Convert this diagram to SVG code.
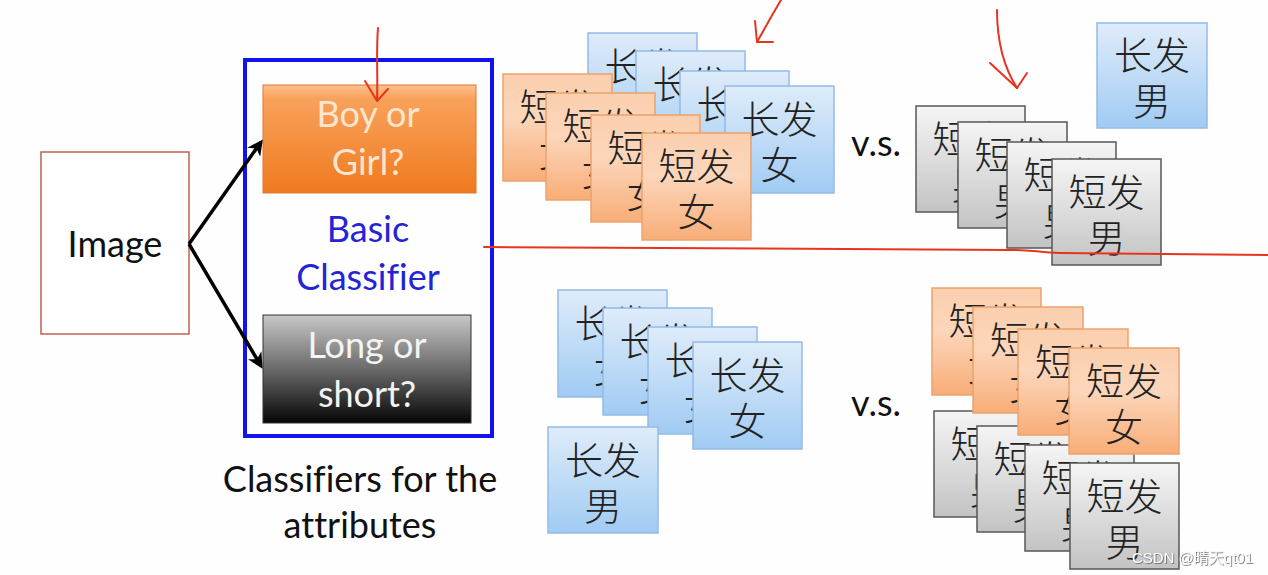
<svg xmlns="http://www.w3.org/2000/svg" width="1268" height="575" viewBox="0 0 1268 575">
<defs>
<linearGradient id="gO" x1="0" y1="0" x2="0" y2="1"><stop offset="0" stop-color="#fbcfae"/><stop offset="0.4" stop-color="#fcd6bb"/><stop offset="1" stop-color="#f8ad77"/></linearGradient>
<linearGradient id="gB" x1="0" y1="0" x2="0" y2="1"><stop offset="0" stop-color="#dfecfa"/><stop offset="1" stop-color="#a0cbf3"/></linearGradient>
<linearGradient id="gG" x1="0" y1="0" x2="0" y2="1"><stop offset="0" stop-color="#f5f5f5"/><stop offset="1" stop-color="#c3c3c3"/></linearGradient>
<linearGradient id="gBoy" x1="0" y1="0" x2="0" y2="1"><stop offset="0" stop-color="#fcc291"/><stop offset="0.12" stop-color="#f9a25c"/><stop offset="1" stop-color="#ef7a1f"/></linearGradient>
<linearGradient id="gLong" x1="0" y1="0" x2="0" y2="1"><stop offset="0" stop-color="#c8c8c8"/><stop offset="0.5" stop-color="#6a6a6a"/><stop offset="1" stop-color="#050505"/></linearGradient>
<filter id="sh" x="-10%" y="-30%" width="120%" height="160%"><feDropShadow dx="0.8" dy="0.8" stdDeviation="0.6" flood-color="#555" flood-opacity="0.9"/></filter>
<marker id="ah" viewBox="0 0 10 10" refX="8" refY="5" markerWidth="4.5" markerHeight="4.5" orient="auto" markerUnits="strokeWidth"><path d="M0,0 L10,5 L0,10 L3,5 Z" fill="#000"/></marker>
<style>
.lat{font-family:Lato,"Open Sans","Liberation Sans",sans-serif;font-size:36px;text-anchor:middle;font-variant-ligatures:none}
.cjk{font-family:"Noto Sans CJK SC","Noto Sans",sans-serif;font-size:38px;font-weight:300;fill:#222;text-anchor:middle}
.co{fill:url(#gO);stroke:#eba26c;stroke-width:1.5}
.cb{fill:url(#gB);stroke:#93bbe6;stroke-width:1.5}
.cg{fill:url(#gG);stroke:#575757;stroke-width:1.5}
.red{fill:none;stroke:#e8331f;stroke-width:2;stroke-linecap:round;stroke-linejoin:round}
.conn{fill:none;stroke:#000;stroke-width:3.5}
</style>
</defs>
<rect width="1268" height="575" fill="#fefefe"/>

<g id="image"><rect x="41" y="152" width="148" height="182" fill="#fff" stroke="#c0604d" stroke-width="1.5"/><text class="lat" x="115" y="257" fill="#111">Image</text></g>

<g id="classifier-box"><rect x="245" y="60" width="247" height="376" fill="none" stroke="#1212ee" stroke-width="4"/></g>

<g id="boy-or-girl"><rect x="263" y="85" width="213" height="108" fill="url(#gBoy)" stroke="#e3762a" stroke-width="1"/><text class="lat" x="368" y="127" fill="#fde5d0">Boy or</text><text class="lat" x="368" y="175" fill="#fde5d0">Girl?</text></g>

<g id="basic-classifier"><text class="lat" x="368" y="242" fill="#2424d6">Basic</text><text class="lat" x="368" y="290" fill="#2424d6">Classifier</text></g>

<g id="long-or-short"><rect x="263" y="315" width="208" height="108" fill="url(#gLong)" stroke="#333" stroke-width="1"/><text class="lat" x="367" y="358" fill="#f4f4f4">Long or</text><text class="lat" x="367" y="407" fill="#f4f4f4">short?</text></g>

<g id="caption"><text class="lat" x="360" y="492" fill="#111">Classifiers for the</text><text class="lat" x="360" y="538" fill="#111">attributes</text></g>

<g id="connectors">
<path class="conn" d="M189,244 L261,142" marker-end="url(#ah)"/>
<path class="conn" d="M189,244 L261,366" marker-end="url(#ah)"/>
</g>

<g id="top-long-female">
<g transform="translate(588,33)"><rect class="cb" width="109" height="107"/><text class="cjk" x="54.5" y="47">长发</text><text class="cjk" x="54.5" y="93">女</text></g>
<g transform="translate(636,51)"><rect class="cb" width="109" height="107"/><text class="cjk" x="54.5" y="47">长发</text><text class="cjk" x="54.5" y="93">女</text></g>
<g transform="translate(680,71)"><rect class="cb" width="109" height="107"/><text class="cjk" x="54.5" y="47">长发</text><text class="cjk" x="54.5" y="93">女</text></g>
<g transform="translate(725,86)"><rect class="cb" width="109" height="107"/><text class="cjk" x="54.5" y="47">长发</text><text class="cjk" x="54.5" y="93">女</text></g>
</g>
<g id="top-short-female">
<g transform="translate(503,74)"><rect class="co" width="109" height="107"/><text class="cjk" x="54.5" y="47">短发</text><text class="cjk" x="54.5" y="93">女</text></g>
<g transform="translate(546,93)"><rect class="co" width="109" height="107"/><text class="cjk" x="54.5" y="47">短发</text><text class="cjk" x="54.5" y="93">女</text></g>
<g transform="translate(591,115)"><rect class="co" width="109" height="107"/><text class="cjk" x="54.5" y="47">短发</text><text class="cjk" x="54.5" y="93">女</text></g>
<g transform="translate(642,133)"><rect class="co" width="109" height="107"/><text class="cjk" x="54.5" y="47">短发</text><text class="cjk" x="54.5" y="93">女</text></g>
</g>

<g id="vs-top"><text class="lat" x="876" y="156" fill="#111">v.s.</text></g>

<g id="top-short-male">
<g transform="translate(916,106)"><rect class="cg" width="109" height="106"/><text class="cjk" x="54.5" y="47">短发</text><text class="cjk" x="54.5" y="93">男</text></g>
<g transform="translate(958,122)"><rect class="cg" width="109" height="106"/><text class="cjk" x="54.5" y="47">短发</text><text class="cjk" x="54.5" y="93">男</text></g>
<g transform="translate(1007,142)"><rect class="cg" width="109" height="106"/><text class="cjk" x="54.5" y="47">短发</text><text class="cjk" x="54.5" y="93">男</text></g>
<g transform="translate(1052,159)"><rect class="cg" width="109" height="106"/><text class="cjk" x="54.5" y="47">短发</text><text class="cjk" x="54.5" y="93">男</text></g>
</g>
<g id="top-long-male"><g transform="translate(1097,23)"><rect class="cb" width="110" height="105"/><text class="cjk" x="55" y="46">长发</text><text class="cjk" x="55" y="92">男</text></g></g>

<g id="bottom-long-female">
<g transform="translate(558,290)"><rect class="cb" width="109" height="107"/><text class="cjk" x="54.5" y="47">长发</text><text class="cjk" x="54.5" y="93">女</text></g>
<g transform="translate(603,308)"><rect class="cb" width="109" height="107"/><text class="cjk" x="54.5" y="47">长发</text><text class="cjk" x="54.5" y="93">女</text></g>
<g transform="translate(648,327)"><rect class="cb" width="109" height="107"/><text class="cjk" x="54.5" y="47">长发</text><text class="cjk" x="54.5" y="93">女</text></g>
<g transform="translate(693,342)"><rect class="cb" width="109" height="107"/><text class="cjk" x="54.5" y="47">长发</text><text class="cjk" x="54.5" y="93">女</text></g>
</g>
<g id="bottom-long-male"><g transform="translate(548,427)"><rect class="cb" width="110" height="106"/><text class="cjk" x="55" y="47">长发</text><text class="cjk" x="55" y="93">男</text></g></g>

<g id="vs-bottom"><text class="lat" x="876" y="416" fill="#111">v.s.</text></g>

<g id="bottom-short-male">
<g transform="translate(934,411)"><rect class="cg" width="109" height="106"/><text class="cjk" x="54.5" y="47">短发</text><text class="cjk" x="54.5" y="93">男</text></g>
<g transform="translate(977,426)"><rect class="cg" width="109" height="106"/><text class="cjk" x="54.5" y="47">短发</text><text class="cjk" x="54.5" y="93">男</text></g>
<g transform="translate(1025,445)"><rect class="cg" width="109" height="106"/><text class="cjk" x="54.5" y="47">短发</text><text class="cjk" x="54.5" y="93">男</text></g>
<g transform="translate(1070,463)"><rect class="cg" width="109" height="106"/><text class="cjk" x="54.5" y="47">短发</text><text class="cjk" x="54.5" y="93">男</text></g>
</g>
<g id="bottom-short-female">
<g transform="translate(932,288)"><rect class="co" width="109" height="107"/><text class="cjk" x="54.5" y="47">短发</text><text class="cjk" x="54.5" y="93">女</text></g>
<g transform="translate(973,307)"><rect class="co" width="110" height="106"/><text class="cjk" x="55" y="47">短发</text><text class="cjk" x="55" y="93">女</text></g>
<g transform="translate(1018,329)"><rect class="co" width="110" height="106"/><text class="cjk" x="55" y="47">短发</text><text class="cjk" x="55" y="93">女</text></g>
<g transform="translate(1069,348)"><rect class="co" width="110" height="106"/><text class="cjk" x="55" y="47">短发</text><text class="cjk" x="55" y="93">女</text></g>
</g>

<g id="annotations">
<path class="red" d="M378,28 C376,50 378,75 377,100"/>
<path class="red" d="M365,81 L377,101 L388,89"/>
<path class="red" d="M781,0 C772,15 765,28 757,42"/>
<path class="red" d="M755,21 L757,42 L773,42"/>
<path class="red" d="M997,10 C997,40 1003,66 1017,88"/>
<path class="red" d="M990,63 L1017,88 L1027,73"/>
<path class="red" d="M484,247 L1010,250 C1030,249 1040,253 1060,253 L1268,255"/>
</g>

<g id="watermark"><text x="1253" y="563" text-anchor="end" font-family="'Liberation Sans','Noto Sans CJK SC',sans-serif" font-size="15" fill="#fbfbfb" filter="url(#sh)">CSDN @晴天qt01</text></g>
</svg>
